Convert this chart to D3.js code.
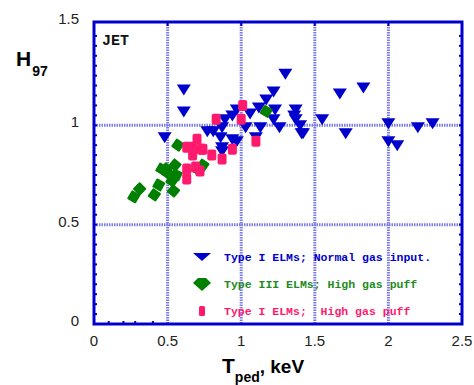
<!DOCTYPE html>
<html><head><meta charset="utf-8">
<script src="https://cdn.jsdelivr.net/npm/d3@7"></script>
<style>body{margin:0;background:#fff}svg{display:block}</style>
</head><body><svg id="c" width="474" height="385"></svg>
<script>
// Type I ELMs; Normal gas input (blue triangles)
const typeINormalT = [0.61,0.61,0.48,1.30,1.22,1.17,1.12,1.37,1.37,1.42,1.22,1.26,1.06,1.13,1.03,0.94,0.89,0.87,0.81,0.77,0.86,0.94,0.97,0.87,0.87,1.10,0.97,1.23,1.36,1.40,1.41,1.67,1.83,1.55,1.71,2.00,2.00,2.06,2.20,2.30];
const typeINormalH = [1.18,1.07,0.94,1.26,1.17,1.13,1.09,1.08,1.03,0.96,1.03,0.99,1.06,0.99,0.99,1.05,1.03,0.99,0.97,0.97,0.94,0.93,0.92,0.89,0.87,0.94,1.08,1.08,1.05,1.00,0.96,1.16,1.19,1.03,0.96,1.01,0.92,0.90,0.99,1.01];
// Type III ELMs; High gas puff (green diamonds)
const typeIIIT = [0.57,0.46,0.55,0.56,0.53,0.31,0.44,0.41,0.54,0.27,0.74,0.70,0.49,1.17,0.50];
const typeIIIH = [0.90,0.78,0.80,0.75,0.72,0.68,0.70,0.65,0.67,0.64,0.80,0.78,0.78,1.07,0.76];
// Type I ELMs; High gas puff (pink squares)
const typeIHighT = [0.63,0.70,0.67,0.74,0.67,0.80,0.87,0.94,1.10,0.63,0.63,0.69,0.72,1.01,0.83,1.00,0.73];
const typeIHighH = [0.89,0.93,0.89,0.88,0.85,0.85,0.83,0.88,0.92,0.78,0.73,0.79,0.77,1.10,1.03,1.03,0.88];

const xTicks = [0,0.5,1,1.5,2,2.5];
const yTicks = [0,0.5,1,1.5];
const legendLabels = ["Type I ELMs; Normal gas input.","Type III ELMs; High gas puff","Type I ELMs;  High gas puff"];
const colors = ["#0000cc","#008000","#ff1a6e"];
const legendTextColors = ["#0000cc","#228b22","#ff1a6e"];

const svg = d3.select("#c");
const L=94,R=462,T=22,B=324;
const x = d3.scaleLinear().domain([0,2.5]).range([L,R]);
const y = d3.scaleLinear().domain([0,1.52]).range([B,T]);

// grid lines
const grid = svg.append("g").attr("stroke","#7b7be6").attr("stroke-width",3).attr("stroke-dasharray","1.5,1");
grid.selectAll("line.v").data([0.5,1,1.5,2]).join("line")
  .attr("x1",d=>x(d)).attr("x2",d=>x(d)).attr("y1",T).attr("y2",B);
grid.selectAll("line.h").data([0.5,1]).join("line")
  .attr("x1",L).attr("x2",R).attr("y1",d=>y(d)).attr("y2",d=>y(d));

// minor ticks
const minorY = d3.range(0.05,1.5,0.05);
const tk = svg.append("g").attr("stroke","#0000cc").attr("stroke-width",2);
tk.selectAll("line.l").data(minorY).join("line")
  .attr("x1",L).attr("x2",L+3).attr("y1",d=>y(d)).attr("y2",d=>y(d));
tk.selectAll("line.r").data(minorY).join("line")
  .attr("x1",R-3).attr("x2",R).attr("y1",d=>y(d)).attr("y2",d=>y(d));
tk.selectAll("line.b").data([0.1,0.2,0.28,0.4]).join("line")
  .attr("x1",d=>x(d)).attr("x2",d=>x(d)).attr("y1",B-3).attr("y2",B);
tk.selectAll("line.t").data([0.5,1,1.5,2]).join("line")
  .attr("x1",d=>x(d)).attr("x2",d=>x(d)).attr("y1",T).attr("y2",T+4);

// frame
svg.append("rect").attr("x",L).attr("y",T).attr("width",R-L).attr("height",B-T)
  .attr("fill","none").attr("stroke","#0000cc").attr("stroke-width",3);

// tick labels
svg.append("g").selectAll("text").data(xTicks).join("text")
  .attr("x",d=>x(d)).attr("y",B+22).attr("text-anchor","middle")
  .attr("font-family","Liberation Sans, Arial").attr("font-size",15).attr("fill","#222")
  .text(d=>d3.format("")(d));
svg.append("g").selectAll("text").data(yTicks).join("text")
  .attr("x",79).attr("y",d=>d===1.5? T+2 : y(d)+2).attr("text-anchor","end")
  .attr("font-family","Liberation Sans, Arial").attr("font-size",15).attr("fill","#222")
  .text(d=>d3.format("")(d));

// axis titles
const yt = svg.append("text").attr("x",16).attr("y",66).attr("font-family","Liberation Sans, Arial").attr("font-weight","bold").attr("fill","#000");
yt.append("tspan").attr("font-size",21).text("H");
yt.append("tspan").attr("font-size",14).attr("dy",10).attr("dx",1).text("97");
const xt = svg.append("text").attr("x",222).attr("y",373).attr("font-family","Liberation Sans, Arial").attr("font-weight","bold").attr("fill","#000");
xt.append("tspan").attr("font-size",21).text("T");
xt.append("tspan").attr("font-size",14).attr("dy",9).text("ped");
xt.append("tspan").attr("font-size",19).attr("dy",-9).text(", keV");

// JET label
svg.append("text").attr("x",102).attr("y",45).attr("font-family","Liberation Mono, Courier New, monospace")
  .attr("font-weight","bold").attr("font-size",15).attr("fill","#111").text("JET");

// marks
const tri = "M-7,-5L7,-5L0,6Z";
svg.append("g").selectAll("path").data(typeINormalT.map((t,i)=>[t,typeINormalH[i]])).join("path")
  .attr("d",tri).attr("transform",d=>`translate(${x(d[0])},${y(d[1])})`).attr("fill",colors[0]);
svg.append("g").selectAll("rect").data(typeIIIT.map((t,i)=>[t,typeIIIH[i]])).join("rect")
  .attr("x",-5).attr("y",-5).attr("width",10).attr("height",10).attr("rx",1)
  .attr("transform",(d,i)=>`translate(${x(d[0])},${y(d[1])}) rotate(${[35,30,40,25,35,45,30,35,40,30,35,30,40,30,35][i]})`).attr("fill",colors[1]);
svg.append("g").selectAll("rect").data(typeIHighT.map((t,i)=>[t,typeIHighH[i]])).join("rect")
  .attr("x",-4.5).attr("y",-5.5).attr("width",9).attr("height",11).attr("rx",2)
  .attr("transform",d=>`translate(${x(d[0])},${y(d[1])})`).attr("fill",colors[2]);

// legend
const lg = svg.append("g");
const ly = [257,284,311];
lg.append("path").attr("d","M-9,-4L9,-4L0,4Z").attr("transform",`translate(202,${ly[0]})`).attr("fill",colors[0]);
lg.append("path").attr("d","M-9,-1L-4,-6L4,-6L9,-1L0,7Z").attr("transform",`translate(202,${ly[1]})`).attr("fill",colors[1]);
lg.append("rect").attr("x",199).attr("y",ly[2]-5).attr("width",6).attr("height",10).attr("rx",1.5).attr("fill",colors[2]);
lg.selectAll("text").data(legendLabels).join("text")
  .attr("x",224).attr("y",(d,i)=>ly[i]+3.5).attr("xml:space","preserve").style("white-space","pre")
  .attr("font-family","Liberation Mono, Courier New, monospace").attr("font-weight","bold").attr("font-size",11.5)
  .attr("fill",(d,i)=>legendTextColors[i]).text(d=>d);
</script></body></html>
